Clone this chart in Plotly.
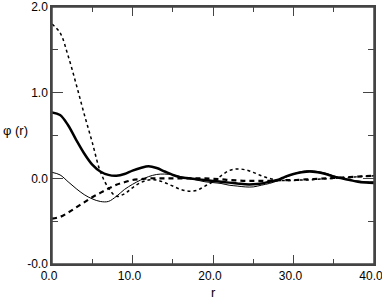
import plotly.graph_objects as go

r = list(range(0, 41))

phi_thick = [0.77, 0.74, 0.62, 0.45, 0.29, 0.16, 0.08, 0.04, 0.03, 0.05,
             0.09, 0.12, 0.14, 0.12, 0.08, 0.04, 0.01, 0.0, -0.01, -0.02,
             -0.03, -0.04, -0.05, -0.06, -0.07, -0.07, -0.06, -0.04, -0.02, 0.02,
             0.05, 0.07, 0.08, 0.07, 0.05, 0.02, 0.0, -0.02, -0.04, -0.05, -0.055]

phi_thin = [0.07, 0.04, -0.04, -0.12, -0.19, -0.24, -0.27, -0.27, -0.21, -0.13,
            -0.07, -0.02, 0.02, 0.045, 0.05, 0.04, 0.02, 0.0, -0.02, -0.04,
            -0.05, -0.06, -0.08, -0.09, -0.1, -0.1, -0.08, -0.06, -0.03, 0.01,
            0.05, 0.08, 0.09, 0.08, 0.06, 0.03, 0.0, -0.02, -0.03, -0.04, -0.04]

phi_dashed = [-0.47, -0.45, -0.40, -0.34, -0.28, -0.22, -0.17, -0.12, -0.075, -0.045,
              -0.02, -0.01, 0.0, 0.0, 0.0, 0.0, 0.0, 0.0, 0.0, 0.0,
              -0.005, -0.01, -0.02, -0.025, -0.03, -0.03, -0.03, -0.03, -0.025, -0.02,
              -0.02, -0.015, -0.01, -0.005, 0.0, 0.005, 0.01, 0.015, 0.02, 0.025, 0.03]

phi_dotted = [1.80, 1.70, 1.43, 1.10, 0.75, 0.42, 0.08, -0.11, -0.21, -0.18,
              -0.11, -0.05, -0.02, -0.02, -0.05, -0.09, -0.13, -0.15, -0.14, -0.09,
              -0.04, 0.03, 0.09, 0.11, 0.10, 0.07, 0.03, 0.0, -0.02, -0.025,
              -0.025, -0.02, -0.02, -0.01, -0.005, 0.0, 0.005, 0.01, 0.02, 0.025, 0.03]

x_tickvals = [0, 10, 20, 30, 40]
x_ticktext = ["0.0", "10.0", "20.0", "30.0", "40.0"]
y_tickvals = [-1, 0, 1, 2]
y_ticktext = ["-0.0", "0.0", "1.0", "2.0"]

fig = go.Figure()
fig.add_trace(go.Scatter(x=r, y=phi_dotted, mode="lines", line=dict(color="black", width=1.5, dash="dot", shape="spline")))
fig.add_trace(go.Scatter(x=r, y=phi_dashed, mode="lines", line=dict(color="black", width=2.2, dash="5px,4px", shape="spline")))
fig.add_trace(go.Scatter(x=r, y=phi_thin, mode="lines", line=dict(color="black", width=1, shape="spline")))
fig.add_trace(go.Scatter(x=r, y=phi_thick, mode="lines", line=dict(color="black", width=2.5, shape="spline")))

fam = "Liberation Sans, Arial, sans-serif"
font = dict(family=fam, size=12, color="black")
axis_common = dict(showgrid=False, zeroline=False, showline=True, linecolor="#444",
                   linewidth=1.5, mirror="allticks", ticks="inside", tickcolor="#444",
                   tickwidth=1.2, tickfont=font, automargin=False, ticklabeloverflow="allow")

fig.update_xaxes(range=[0, 40], tickvals=x_tickvals, ticktext=x_ticktext, ticklen=9,
                 ticklabelshift=-3,
                 minor=dict(dtick=5, tick0=0, ticks="inside", ticklen=5, tickcolor="#444", tickwidth=1.2),
                 **axis_common)
fig.update_yaxes(range=[-1, 2], tickvals=y_tickvals, ticktext=y_ticktext, ticklen=11,
                 minor=dict(dtick=0.5, tick0=0, ticks="inside", ticklen=6, tickcolor="#444", tickwidth=1.2),
                 **axis_common)

W, H = 382, 300
L, R, T, B = 52, 8, 7, 36
plot_w = W - L - R
plot_h = H - T - B

# frame around the plotting area
fig.add_shape(type="rect", xref="paper", yref="paper", x0=0, x1=1, y0=0, y1=1,
              line=dict(color="#444", width=1.5), fillcolor="rgba(0,0,0,0)", layer="above")

fig.add_annotation(text="r", x=0.5, y=-(292 - (H - B)) / plot_h, xref="paper", yref="paper", showarrow=False,
                   font=dict(family=fam, size=13, color="black"),
                   yanchor="middle", xanchor="center")
fig.add_annotation(text="φ (r)", x=-(L - 1) / plot_w, y=(H - B - 130) / plot_h, xref="paper", yref="paper",
                   showarrow=False, font=dict(family=fam, size=13, color="black"),
                   xanchor="left", yanchor="middle")

fig.update_layout(width=W, height=H, margin=dict(l=L, r=R, t=T, b=B, autoexpand=False),
                  paper_bgcolor="white", plot_bgcolor="white", showlegend=False)

fig.write_html("out.html", config={"displayModeBar": False},
               post_script="document.body.style.margin='0';")
